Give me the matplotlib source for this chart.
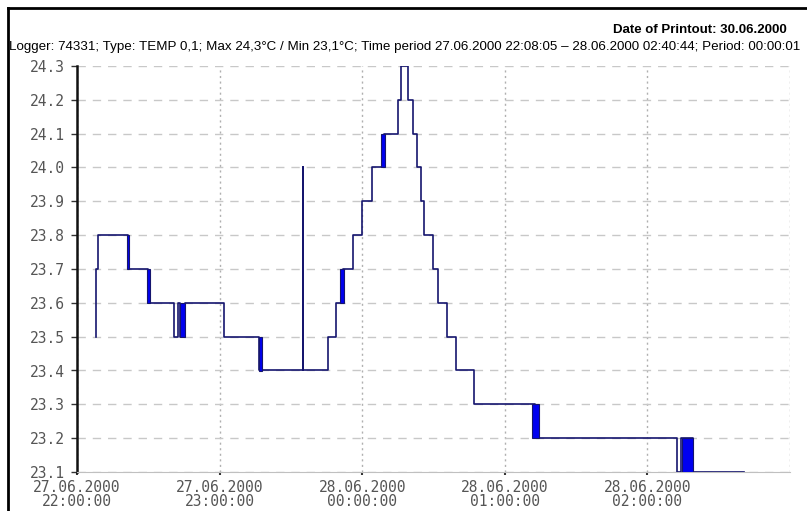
import numpy as np
import matplotlib.pyplot as plt
import matplotlib.dates as mdates
from matplotlib.lines import Line2D
from matplotlib.transforms import ScaledTranslation
from datetime import datetime

# step series: time of change and value held until next change
step_times = ["27.06.2000 22:08:05", "27.06.2000 22:08:10", "27.06.2000 22:08:50",
              "27.06.2000 22:21:30", "27.06.2000 22:29:55", "27.06.2000 22:40:50",
              "27.06.2000 22:42:30", "27.06.2000 22:43:20", "27.06.2000 22:45:25",
              "27.06.2000 23:01:55", "27.06.2000 23:16:35", "27.06.2000 23:35:05",
              "27.06.2000 23:35:10", "27.06.2000 23:45:35", "27.06.2000 23:49:00",
              "27.06.2000 23:51:55", "27.06.2000 23:56:05", "27.06.2000 23:59:55",
              "28.06.2000 00:04:05", "28.06.2000 00:09:10", "28.06.2000 00:15:05",
              "28.06.2000 00:16:20", "28.06.2000 00:19:20", "28.06.2000 00:21:25",
              "28.06.2000 00:23:05", "28.06.2000 00:24:50", "28.06.2000 00:26:00",
              "28.06.2000 00:29:50", "28.06.2000 00:31:55", "28.06.2000 00:35:40",
              "28.06.2000 00:39:30", "28.06.2000 00:47:05", "28.06.2000 01:12:40",
              "28.06.2000 02:12:30", "28.06.2000 02:14:00", "28.06.2000 02:19:10",
              "28.06.2000 02:40:44"]
step_values = [23.5, 23.7, 23.8,
               23.7, 23.6, 23.5,
               23.6, 23.5, 23.6,
               23.5, 23.4, 24.0,
               23.4, 23.5, 23.6,
               23.7, 23.8, 23.9,
               24.0, 24.1, 24.2,
               24.3, 24.2, 24.1,
               24.0, 23.9, 23.8,
               23.7, 23.6, 23.5,
               23.4, 23.3, 23.2,
               23.1, 23.2, 23.1,
               23.1]

# fast toggling between two values (drawn as solid blocks)
osc_start = ["27.06.2000 22:21:00", "27.06.2000 22:29:30", "27.06.2000 22:43:20",
             "27.06.2000 23:16:25", "27.06.2000 23:50:40", "28.06.2000 00:08:00",
             "28.06.2000 01:11:25", "28.06.2000 02:14:35"]
osc_end = ["27.06.2000 22:22:00", "27.06.2000 22:30:35", "27.06.2000 22:45:25",
           "27.06.2000 23:17:55", "27.06.2000 23:52:10", "28.06.2000 00:09:35",
           "28.06.2000 01:14:25", "28.06.2000 02:19:10"]
osc_low = [23.7, 23.6, 23.5, 23.4, 23.6, 24.0, 23.2, 23.1]
osc_high = [23.8, 23.7, 23.6, 23.5, 23.7, 24.1, 23.3, 23.2]

x_ticks = ["27.06.2000 22:00:00", "27.06.2000 23:00:00", "28.06.2000 00:00:00",
           "28.06.2000 01:00:00", "28.06.2000 02:00:00"]
y_ticks = [23.1, 23.2, 23.3, 23.4, 23.5, 23.6, 23.7, 23.8, 23.9, 24.0, 24.1, 24.2, 24.3]

fmt = "%d.%m.%Y %H:%M:%S"
to_dt = lambda lst: [datetime.strptime(s, fmt) for s in lst]

line_col = "#15156e"
fill_col = "#0000f0"
mono = ["DejaVu Sans Mono"]

fig = plt.figure(figsize=(8.07, 5.11), dpi=100)
ax = fig.add_axes([77 / 807, 1 - 472 / 511, (790 - 77) / 807, (472 - 66) / 511])

t = mdates.date2num(to_dt(step_times))
ax.step(t, step_values, where="post", color=line_col, lw=1.2, zorder=3)

s = mdates.date2num(to_dt(osc_start))
e = mdates.date2num(to_dt(osc_end))
ax.bar(s, np.array(osc_high) - np.array(osc_low), bottom=osc_low, width=e - s,
       align="edge", color=fill_col, edgecolor=line_col, lw=0.8, zorder=4)

xt = mdates.date2num(to_dt(x_ticks))
ax.set_xlim(xt[0], xt[0] + 5 / 24)
ax.set_ylim(23.1, 24.3)
ax.set_xticks(xt)
ax.set_xticklabels([d.replace(" ", "\n") for d in x_ticks])
ax.set_yticks(y_ticks)
ax.set_yticklabels([f"{v:.1f}" for v in y_ticks])

for lab in ax.get_xticklabels():
    lab.set_transform(lab.get_transform() + ScaledTranslation(23 / 100, 0, fig.dpi_scale_trans))
    lab.set_linespacing(0.9)
ax.tick_params(axis="x", length=2, width=1.5, color="#333333", pad=4,
               labelsize=10.5, labelcolor="#555555")
ax.tick_params(axis="y", length=4, width=1, color="#333333", pad=5,
               labelsize=10.5, labelcolor="#555555")
for lab in ax.get_xticklabels() + ax.get_yticklabels():
    lab.set_family(mono)

ax.grid(axis="y", color="#c8c8c8", ls=(0, (6, 5)), lw=1)
ax.grid(axis="x", color="#b0b0b0", ls=(0, (1.5, 2.5)), lw=1)
ax.axvline(xt[0] + 5 / 24, color="#b0b0b0", ls=(0, (1.5, 2.5)), lw=1)
ax.spines["top"].set_visible(False)
ax.spines["right"].set_visible(False)
ax.spines["bottom"].set_color("#c0c0c0")
ax.spines["left"].set_color("#111111")
ax.spines["left"].set_linewidth(1.8)

sans = ["Liberation Sans", "DejaVu Sans"]
fig.text(787 / 807, 1 - 30 / 511, "Date of Printout: 30.06.2000", ha="right", va="center",
         fontsize=9.5, fontweight="bold", family=sans)
fig.text(9 / 807, 1 - 47 / 511,
         "Logger: 74331; Type: TEMP 0,1; Max 24,3°C / Min 23,1°C; Time period "
         "27.06.2000 22:08:05 – 28.06.2000 02:40:44; Period: 00:00:01",
         ha="left", va="center", fontsize=9.6, family=sans)

# frame on left and top edges
fig.add_artist(Line2D([8 / 807, 8 / 807], [0, 1 - 8 / 511], color="black", lw=2,
                      transform=fig.transFigure))
fig.add_artist(Line2D([8 / 807, 1], [1 - 8 / 511, 1 - 8 / 511], color="black", lw=2,
                      transform=fig.transFigure))

fig.savefig("out.png", dpi=100)
